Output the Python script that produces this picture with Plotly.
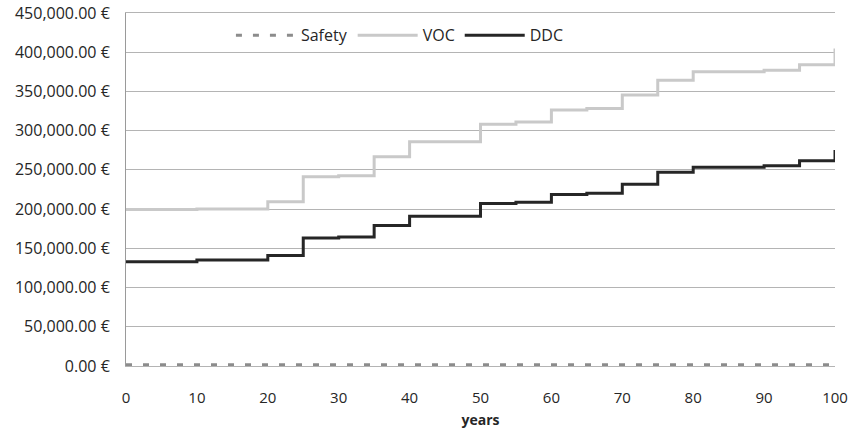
import plotly.graph_objects as go

# Data
step_years = [0, 10, 20, 25, 30, 35, 40, 50, 55, 60, 65, 70, 75, 80, 90, 95, 100]
voc_cost = [199400, 200300, 209300, 241200, 242500, 266800, 286000, 308100, 311000,
            326400, 328200, 345600, 364400, 375000, 377100, 383900, 404900]
ddc_cost = [133000, 135100, 141000, 163300, 164500, 179000, 190900, 207100, 208800,
            218600, 220300, 231800, 247100, 253500, 255300, 261700, 275200]
safety_years = [0, 100]
safety_cost = [1500, 1500]

x_ticks = [0, 10, 20, 30, 40, 50, 60, 70, 80, 90, 100]
y_ticks = [0, 50000, 100000, 150000, 200000, 250000, 300000, 350000, 400000, 450000]
y_tick_labels = [f"{v:,.2f} €" for v in y_ticks]

FONT = "Open Sans"
GRID = "#b4b4b4"

fig = go.Figure()
fig.add_trace(go.Scatter(x=safety_years, y=safety_cost, name="Safety", mode="lines",
                         line=dict(color="#8c8c8c", width=3, dash="6px,11px")))
fig.add_trace(go.Scatter(x=step_years, y=voc_cost, name="VOC", mode="lines",
                         line=dict(color="#c9c9c9", width=3, shape="hv")))
fig.add_trace(go.Scatter(x=step_years, y=ddc_cost, name="DDC", mode="lines",
                         line=dict(color="#262626", width=3, shape="hv")))

fig.update_layout(
    width=854, height=436,
    margin=dict(l=126, r=19, t=13, b=70),
    plot_bgcolor="white", paper_bgcolor="white",
    font=dict(family=FONT, size=15, color="#262626"),
    showlegend=True,
    legend=dict(orientation="h", x=0.148, y=0.985, xanchor="left", yanchor="top",
                bgcolor="rgba(0,0,0,0)", itemwidth=60,
                font=dict(family=FONT, size=16, color="#262626")),
)
fig.update_xaxes(range=[0, 100], tickvals=x_ticks, showgrid=False, zeroline=False,
                 showline=True, mirror=True, linecolor=GRID, linewidth=1,
                 ticks="", tickfont=dict(size=15), automargin=False,
                 ticklabelstandoff=18,
                 title=dict(text="<b>years</b>", font=dict(size=14), standoff=9))
fig.update_yaxes(range=[0, 450000], tickvals=y_ticks, ticktext=y_tick_labels,
                 showgrid=True, gridcolor=GRID, gridwidth=1, zeroline=False,
                 showline=True, linecolor="#9a9a9a", linewidth=1, ticks="",
                 automargin=False, ticklabelstandoff=12,
                 tickfont=dict(size=16))

fig.write_html("out.html", config={"displayModeBar": False},
               post_script="document.body.style.margin='0px';document.body.style.overflow='hidden';")
